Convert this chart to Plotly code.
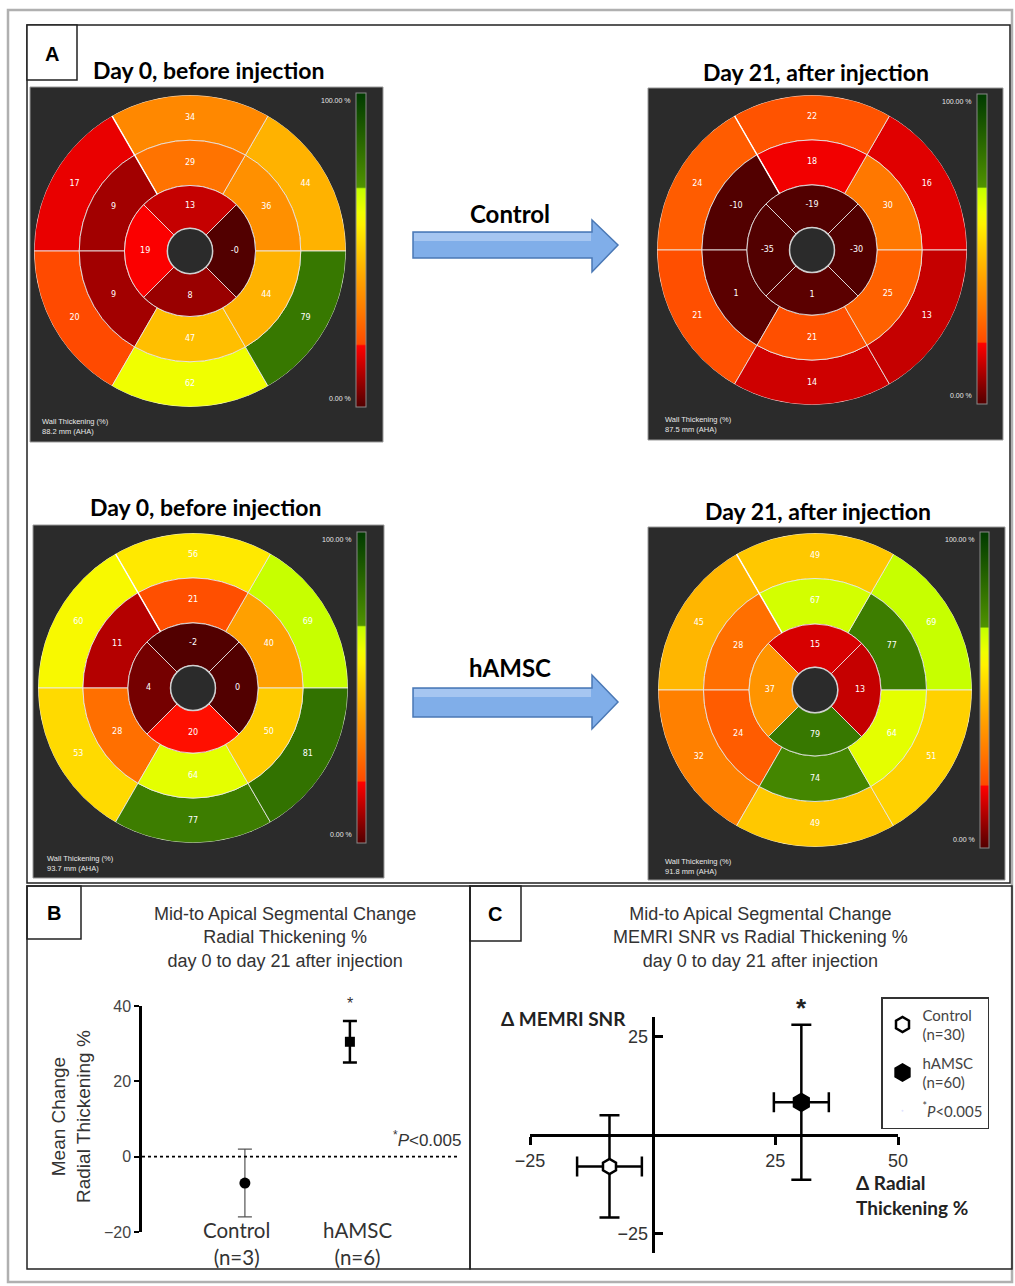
import plotly.graph_objects as go

# ---------------- data ----------------
panel_titles = ["Day 0, before injection", "Day 21, after injection",
                "Day 0, before injection", "Day 21, after injection"]
arrow_labels = ["Control", "hAMSC"]
map_depth = ["88.2 mm (AHA)", "87.5 mm (AHA)", "93.7 mm (AHA)", "91.8 mm (AHA)"]
map_caption = "Wall Thickening (%)"
cbar_labels = ["100.00 %", "0.00 %"]

# segment wall thickening (%), counter-clockwise from 3 o'clock
ctrl_d0_basal = [44, 34, 17, 20, 62, 79]
ctrl_d0_mid = [36, 29, 9, 9, 47, 44]
ctrl_d0_apical = [-0.4, 13, 19, 8]
ctrl_d21_basal = [16, 22, 24, 21, 14, 13]
ctrl_d21_mid = [30, 18, -10, 1, 21, 25]
ctrl_d21_apical = [-30, -19, -35, 1]
hamsc_d0_basal = [69, 56, 60, 53, 77, 81]
hamsc_d0_mid = [40, 21, 11, 28, 64, 50]
hamsc_d0_apical = [0, -2, 4, 19.6]
hamsc_d21_basal = [69, 49, 45, 32, 49, 51]
hamsc_d21_mid = [77, 67, 28, 24, 74, 64]
hamsc_d21_apical = [13, 15, 37, 79]

# panel B
b_groups = ["Control", "hAMSC"]
b_n = [3, 6]
b_mean = [-7, 30.5]
b_err = [9, 5.5]
b_yticks = [-20, 0, 20, 40]
b_title = "Mid-to Apical Segmental Change<br>Radial Thickening %<br>day 0 to day 21 after injection"
b_ytitle = "Mean Change<br>Radial Thickening %"

# panel C
c_groups = ["Control", "hAMSC"]
c_n = [30, 60]
c_dthick = [-8.8, 30.3]
c_dthick_err = [6.6, 5.6]
c_dsnr = [-8.0, 8.3]
c_dsnr_err = [13.0, 19.7]
c_xticks = [-25, 25, 50]
c_yticks = [-25, 25]
c_title = "Mid-to Apical Segmental Change<br>MEMRI SNR vs Radial Thickening %<br>day 0 to day 21 after injection"
pval = "<sup>*</sup><i>P</i>&lt;0.005"

# ---------------- layout helpers ----------------
W, H = 1015, 1286


def X(px):
    return px / W


def Y(py):
    return 1 - py / H


ARIAL = "Liberation Sans, Arial, sans-serif"
CALIBRI = "Lato, Carlito, Calibri, sans-serif"

CS = [[0.0, "#520000"], [0.195, "#ff0000"], [0.2, "#ff4a00"], [0.3, "#ff7800"],
      [0.4, "#ffa000"], [0.5, "#ffcc00"], [0.58, "#fff200"], [0.62, "#f0ff00"],
      [0.695, "#c4ff00"], [0.7, "#4f9200"], [1.0, "#003a00"]]

R_HOLE, R_AP, R_MID, R_BAS = 0.145, 0.42, 0.71, 1.0
TH6 = [30, 90, 150, 210, 270, 330]
TH4 = [0, 90, 180, 270]

fig = go.Figure()
shapes = []
annotations = []
layout_extra = {}


def ann(text, x, y, size, color="#333", family=ARIAL, xanchor="center", yanchor="middle",
        xref="paper", yref="paper", **kw):
    d = dict(text=text, x=x, y=y, xref=xref, yref=yref, showarrow=False,
             xanchor=xanchor, yanchor=yanchor,
             font=dict(size=size, color=color, family=family))
    d.update(kw)
    annotations.append(d)


def box(x0, y0, x1, y1, color="#222", width=1.5, **kw):
    d = dict(type="rect", xref="paper", yref="paper", x0=X(x0), x1=X(x1), y0=Y(y1), y1=Y(y0),
             line=dict(color=color, width=width))
    d.update(kw)
    shapes.append(d)


maps = [
    (ctrl_d0_basal, ctrl_d0_mid, ctrl_d0_apical, (30, 87, 383, 442), (190, 251), 156,
     (356, 93, 366, 407), (40, 426), (208, 70)),
    (ctrl_d21_basal, ctrl_d21_mid, ctrl_d21_apical, (648, 88, 1003, 440), (812, 250), 155,
     (977, 94, 987, 404), (663, 424), (816, 72)),
    (hamsc_d0_basal, hamsc_d0_mid, hamsc_d0_apical, (33, 525, 384, 878), (193, 688), 155,
     (357, 532, 366, 843), (45, 863), (205, 507)),
    (hamsc_d21_basal, hamsc_d21_mid, hamsc_d21_apical, (648, 527, 1005, 880), (815, 690), 157,
     (980, 532, 989, 848), (663, 866), (818, 511)),
]

for i, (bas, mid, ap, rect, (cx, cy), R, cb, cap, tpos) in enumerate(maps):
    pname = "polar" if i == 0 else f"polar{i + 1}"
    caname = "coloraxis" if i == 0 else f"coloraxis{i + 1}"
    vals = list(bas) + list(mid) + list(ap)
    theta = TH6 + TH6 + TH4
    widths = [60] * 12 + [90] * 4
    rr = [R_BAS - R_MID] * 6 + [R_MID - R_AP] * 6 + [R_AP - R_HOLE] * 4
    base = [R_MID] * 6 + [R_AP] * 6 + [R_HOLE] * 4
    rtext = [(R_BAS + R_MID) / 2] * 6 + [(R_MID + R_AP) / 2] * 6 + [(R_AP + R_HOLE) / 2 + 0.005] * 4

    box(rect[0], rect[1], rect[2], rect[3], color="#9a9a9a", width=1,
        fillcolor="#2b2b2b", layer="below")

    fig.add_trace(go.Barpolar(
        r=rr, base=base, theta=theta, width=widths, subplot=pname,
        marker=dict(color=vals, coloraxis=caname,
                    line=dict(color="rgba(235,235,235,0.85)", width=1)),
        hoverinfo="skip", showlegend=False))
    fig.add_trace(go.Barpolar(
        r=[R_HOLE], base=[0], theta=[0], width=[360], subplot=pname,
        marker=dict(color="#2b2b2b", line=dict(color="#d0d0d0", width=1.5)),
        hoverinfo="skip", showlegend=False))
    fig.add_trace(go.Scatterpolar(
        r=rtext, theta=theta, mode="text", subplot=pname,
        text=[f"{v:.0f}" for v in vals],
        textfont=dict(color="white", size=8, family="DejaVu Sans, sans-serif"),
        hoverinfo="skip", showlegend=False))
    fig.add_trace(go.Scatterpolar(
        r=[R_AP, 1.045], theta=[120, 120], mode="lines", subplot=pname, cliponaxis=False,
        line=dict(color="white", width=1.4), hoverinfo="skip", showlegend=False))

    layout_extra[pname] = dict(
        domain=dict(x=[X(cx - R), X(cx + R)], y=[Y(cy + R), Y(cy - R)]),
        bgcolor="#2b2b2b",
        radialaxis=dict(visible=False, range=[0, 1]),
        angularaxis=dict(visible=False, rotation=0, direction="counterclockwise"),
    )
    layout_extra[caname] = dict(
        cmin=0, cmax=100, colorscale=CS,
        colorbar=dict(x=X(cb[0]), xanchor="left", xpad=0, ypad=0,
                      y=Y((cb[1] + cb[3]) / 2), yanchor="middle",
                      len=cb[3] - cb[1], lenmode="pixels",
                      thickness=cb[2] - cb[0], thicknessmode="pixels",
                      outlinecolor="#8a8a8a", outlinewidth=1,
                      showticklabels=False, ticks=""))
    ann(cbar_labels[0], X(cb[0] - 3), Y(cb[1] + 7), 7, "#e8e8e8", xanchor="right")
    ann(cbar_labels[1], X(cb[0] - 3), Y(cb[3] - 9), 7, "#e8e8e8", xanchor="right")
    ann(f"{map_caption}<br>{map_depth[i]}", X(cap[0]), Y(cap[1]), 7.5, "#e8e8e8",
        xanchor="left", align="left")
    ann(f"<b>{panel_titles[i]}</b>", X(tpos[0]), Y(tpos[1]), 23, "black", CALIBRI)

# arrows between maps
for j, (ytop, ybot, htop, hbot, ytip, ytext) in enumerate([(232, 258, 220, 272, 245, 214),
                                                          (688, 717, 675, 729, 702, 667)]):
    path = (f"M{X(413)},{Y(ytop)} L{X(592)},{Y(ytop)} L{X(592)},{Y(htop)} "
            f"L{X(618)},{Y(ytip)} L{X(592)},{Y(hbot)} L{X(592)},{Y(ybot)} "
            f"L{X(413)},{Y(ybot)} Z")
    shapes.append(dict(type="path", xref="paper", yref="paper", path=path,
                       fillcolor="#80aee9", line=dict(color="#4a78b5", width=1.5)))
    shapes.append(dict(type="rect", xref="paper", yref="paper",
                       x0=X(414), x1=X(591), y0=Y(ytop + 9), y1=Y(ytop + 1),
                       fillcolor="#a6c6f1", line=dict(width=0)))
    ann(f"<b>{arrow_labels[j]}</b>", X(510), Y(ytext), 24, "black", CALIBRI)

# frames
box(8, 10, 1012, 1282, color="#b0b0b0", width=2.5)
box(27, 25, 1010, 883)
box(27, 25, 77, 80, fillcolor="white")
box(27, 886, 470, 1269)
box(27, 886, 81, 939)
box(470, 886, 1012, 1269)
box(470, 886, 521, 941)
for lab, (lx, ly) in zip(["A", "B", "C"], [(52, 54), (54, 913), (495, 914)]):
    ann(f"<b>{lab}</b>", X(lx), Y(ly), 20, "black")

# ---------------- panel B ----------------
b_x = list(range(1, len(b_groups) + 1))
b_styles = [dict(msym="circle", msize=11, ecol="#555", ethick=1.2),
            dict(msym="square", msize=10, ecol="black", ethick=2.5)]
for k in range(len(b_groups)):
    st = b_styles[k]
    fig.add_trace(go.Scatter(
        x=[b_x[k]], y=[b_mean[k]], mode="markers", xaxis="x", yaxis="y",
        marker=dict(symbol=st["msym"], size=st["msize"], color="black"),
        error_y=dict(type="data", array=[b_err[k]], color=st["ecol"],
                     thickness=st["ethick"], width=7),
        showlegend=False, hoverinfo="skip"))
    ann(f"{b_groups[k]}<br>(n={b_n[k]})", b_x[k], Y(1243), 20.5, "#333", CALIBRI,
        xref="x", xshift=-8 if k == 0 else 8)
ann("*", b_x[1], b_mean[1] + b_err[1], 16, "#333", xref="x", yref="y", yshift=18)
ann(pval, X(463), Y(1139), 17, "#333", xanchor="right")
shapes.append(dict(type="line", xref="x domain", yref="y", x0=0, x1=1, y0=0, y1=0,
                   line=dict(color="black", width=1.6, dash="dot")))
ann(b_title, X(285), Y(937), 18, "#333")
ann(b_ytitle, X(71), Y(1117), 19, "#333", textangle=-90)

# ---------------- panel C ----------------
cxd = [X(530), X(898)]
cyd = [Y(1253), Y(1017)]
cxr = [-25, 50]
cyr = [-30, 30]
pos_x0 = cxd[0] + (0 - cxr[0]) / (cxr[1] - cxr[0]) * (cxd[1] - cxd[0])
pos_y0 = cyd[0] + (0 - cyr[0]) / (cyr[1] - cyr[0]) * (cyd[1] - cyd[0])

c_styles = [dict(color="white", size=15), dict(color="black", size=17)]
for k in range(len(c_groups)):
    st = c_styles[k]
    fig.add_trace(go.Scatter(
        x=[c_dthick[k]], y=[c_dsnr[k]], mode="markers", xaxis="x2", yaxis="y2",
        name=f"{c_groups[k]}<br>(n={c_n[k]})", legendgroup=c_groups[k],
        marker=dict(symbol="hexagon", size=st["size"], color=st["color"],
                    line=dict(color="black", width=2.5)),
        error_x=dict(type="data", array=[c_dthick_err[k]], color="black", thickness=2.5, width=10),
        error_y=dict(type="data", array=[c_dsnr_err[k]], color="black", thickness=2.5, width=10),
        hoverinfo="skip"))
fig.add_trace(go.Scatter(x=[None], y=[None], mode="markers", xaxis="x2", yaxis="y2",
                         name=pval, legendgroup="p", marker=dict(opacity=0, size=1),
                         hoverinfo="skip"))
ann("<b>*</b>", c_dthick[1], c_dsnr[1] + c_dsnr_err[1], 26, "#222",
    xref="x2", yref="y2", yshift=17)
ann(c_title, X(760), Y(937), 18, "#333")
ann("<b>Δ MEMRI SNR</b>", X(499), Y(1018), 19, "#222", CALIBRI, xanchor="left")
ann("<b>Δ Radial<br>Thickening %</b>", X(854), Y(1195), 19, "#222", CALIBRI,
    xanchor="left", align="left")

fig.update_layout(
    width=W, height=H, margin=dict(l=0, r=0, t=0, b=0, pad=0, autoexpand=False),
    paper_bgcolor="white", plot_bgcolor="rgba(0,0,0,0)",
    font=dict(family=ARIAL, color="#333"),
    hovermode=False,
    xaxis=dict(domain=[X(142), X(457)], range=[0.02, 3.02], visible=False),
    yaxis=dict(domain=[Y(1232), Y(1006)], range=[-20, 40], tickvals=b_yticks,
               showline=True, linecolor="black", linewidth=2.5, ticks="outside",
               ticklen=5, tickwidth=2, tickcolor="black", showgrid=False, zeroline=False,
               tickfont=dict(size=16, color="#444")),
    xaxis2=dict(domain=cxd, range=cxr, anchor="free", position=pos_y0, tickvals=c_xticks,
                showline=True, linecolor="black", linewidth=3, ticks="outside", ticklen=8,
                tickwidth=3, tickcolor="black", showgrid=False, zeroline=False,
                tickfont=dict(size=18, color="#333")),
    yaxis2=dict(domain=cyd, range=cyr, anchor="free", position=pos_x0, tickvals=c_yticks,
                showline=True, linecolor="black", linewidth=3, ticks="inside", ticklen=8,
                tickwidth=3, tickcolor="black", showgrid=False, zeroline=False,
                tickfont=dict(size=18, color="#333")),
    legend=dict(x=X(881), y=Y(997), xanchor="left", yanchor="top", bgcolor="white",
                bordercolor="#333", borderwidth=1.5, traceorder="grouped", tracegroupgap=6,
                itemsizing="trace", font=dict(size=15, color="#444", family=CALIBRI)),
    shapes=shapes, annotations=annotations,
    **layout_extra,
)

fig.write_html("out.html", config={"displayModeBar": False},
               post_script="document.body.style.margin='0';document.body.style.padding='0';")
